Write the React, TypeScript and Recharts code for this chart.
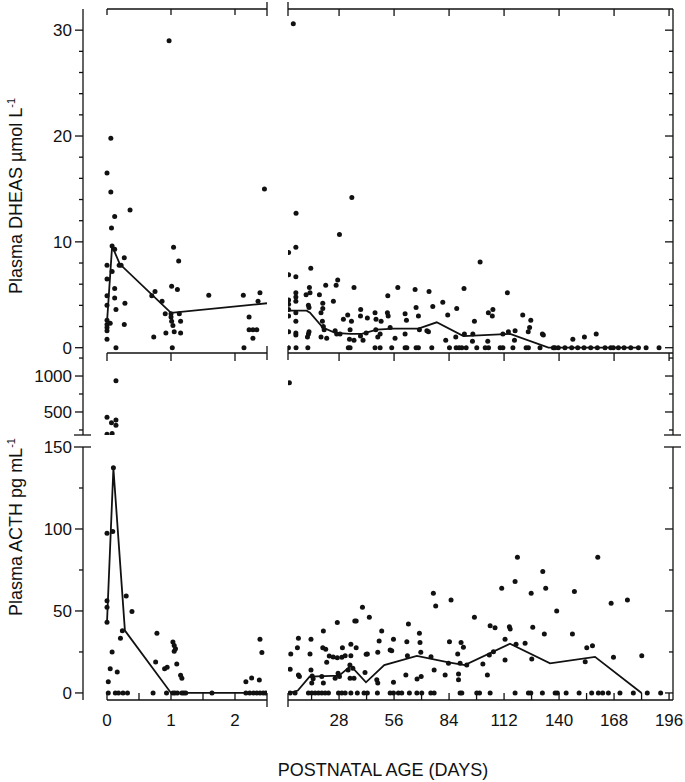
import React from "react";
import {
  ComposedChart,
  Scatter,
  Line,
  XAxis,
  YAxis,
  ReferenceLine,
} from "recharts";

// ---------- data: [postnatal age in days, value] ----------

// DHEAS, first days of life (umol/L)
const dheasEarly: [number, number][] = [
  [0.97, 29.0], [0.06, 19.8], [0.0, 16.5], [0.06, 14.7], [0.12, 12.4],
  [0.07, 11.3], [0.36, 13.0], [2.46, 15.0], [0.08, 9.6], [0.12, 9.3],
  [0.0, 7.8], [0.08, 7.2], [0.0, 6.5], [0.12, 5.6], [0.0, 4.9],
  [0.12, 4.7], [0.0, 4.0], [0.14, 3.6], [0.0, 2.6], [0.0, 2.2],
  [0.05, 2.3], [0.0, 1.9], [0.0, 1.6], [0.0, 0.8], [0.14, 0.0],
  [0.19, 7.8], [0.27, 8.5], [0.22, 7.8], [0.28, 4.2], [0.27, 2.2],
  [0.75, 5.3], [0.7, 4.9], [0.86, 4.4], [0.73, 1.0], [0.92, 1.4],
  [0.91, 3.2], [1.02, 0.0], [1.04, 9.5], [1.12, 8.2], [1.01, 5.8],
  [1.1, 5.5], [1.0, 3.2], [1.0, 2.9], [1.01, 2.5], [1.03, 2.1],
  [1.05, 1.5], [1.13, 3.2], [1.15, 2.5], [1.15, 1.4], [1.59, 4.95],
  [2.13, 4.95], [2.14, 0.0], [2.22, 2.9], [2.22, 1.7], [2.28, 1.7],
  [2.34, 1.7], [2.28, 0.9], [2.39, 5.2], [2.36, 4.4],
];
const dheasEarlyMedian: [number, number][] = [
  [0, 2.4], [0.08, 9.6], [0.2, 7.9], [1.0, 3.3], [2.5, 4.2],
];

// DHEAS, later weeks
const dheasLate: [number, number][] = [
  [4.7, 30.6], [6.1, 12.7], [34.5, 14.2], [28.2, 10.7], [99.8, 8.1],
  [2.3, 9.0], [6.0, 9.5], [2.3, 6.9], [6.0, 6.7], [13.6, 7.5],
  [27.3, 6.4], [26.5, 5.9], [21.2, 5.9], [35.6, 5.7], [57.9, 5.7],
  [66.7, 5.5], [73.8, 5.3], [91.6, 5.6], [113.7, 5.2], [12.9, 5.7],
  [13.2, 5.2], [11.2, 5.0], [6.0, 5.2], [6.0, 4.8], [6.0, 4.4],
  [2.3, 4.5], [2.3, 4.1], [18.0, 5.0], [25.1, 4.4], [52.8, 4.9],
  [19.7, 4.2], [12.4, 4.0], [12.7, 3.8], [18.8, 3.3], [19.7, 3.7],
  [6.0, 3.3], [2.3, 3.6], [2.3, 3.0], [6.0, 2.5], [80.8, 4.3],
  [75.7, 3.9], [67.2, 3.8], [87.9, 3.7], [106.3, 3.6], [104.0, 3.3],
  [106.0, 3.0], [52.6, 3.3], [53.0, 3.0], [39.0, 3.6], [38.9, 3.0],
  [46.3, 3.3], [42.4, 2.8], [32.4, 3.1], [30.2, 2.7], [34.3, 2.5],
  [61.6, 3.2], [62.3, 2.6], [68.4, 3.0], [49.4, 2.5], [46.8, 2.7],
  [83.3, 3.1], [96.9, 2.5], [121.5, 3.1], [125.6, 2.6], [125.0, 1.9],
  [124.3, 1.5], [19.5, 2.5], [20.0, 2.0], [20.4, 1.7], [21.7, 0.9],
  [18.8, 1.0], [26.0, 1.6], [26.8, 1.3], [28.5, 1.3], [33.6, 1.7],
  [33.3, 0.8], [35.6, 0.7], [38.9, 1.1], [40.2, 0.7], [41.8, 1.4],
  [46.7, 1.7], [47.7, 1.0], [48.9, 1.3], [54.0, 1.9], [56.5, 0.9],
  [61.6, 1.3], [68.9, 1.7], [72.7, 1.6], [73.5, 1.5], [82.3, 0.7],
  [87.4, 1.0], [91.8, 1.3], [95.9, 0.6], [96.1, 1.3], [103.7, 0.6],
  [111.4, 1.3], [114.2, 1.5], [117.6, 1.6], [117.3, 0.7], [132.0, 1.2],
  [131.5, 1.3], [147.0, 0.8], [152.9, 1.0], [158.9, 1.3], [2.3, 1.5],
  [6.0, 1.2], [6.0, 1.4], [12.4, 1.3], [11.9, 1.0], [12.7, 1.5],
];
const dheasLateZeroDays = [
  2.2, 6.1, 12.1, 32.7, 33.6, 46.3, 48.9, 54.8, 61.6, 62.5, 67.2, 68.4,
  75.2, 84.2, 87.6, 89.1, 90.5, 92.7, 98.1, 102.4, 104.1, 110, 111.4,
  116.5, 123.2, 124.4, 130.3, 137.1, 137.9, 139.6, 143, 146.4, 149.5,
  152.7, 156.1, 159.5, 163.4, 166.3, 167.6, 170.2, 173.1, 176.5, 180.4,
  184.3, 190.9,
];
const dheasLateMedian: [number, number][] = [
  [2, 3.5], [11.5, 3.5], [13.2, 3.3], [19.7, 1.9], [26, 1.4], [33.6, 1.3],
  [39.6, 1.3], [47.2, 1.7], [55.7, 1.8], [68.4, 1.8], [77.7, 2.4],
  [91.3, 1.1], [115.1, 1.3], [134.6, 0], [181.5, 0],
];

// ACTH (pg/mL), values above the axis break
const acthEarlyHigh: [number, number][] = [
  [0.14, 935], [0.0, 426], [0.07, 351], [0.14, 389], [0.14, 315],
  [0.0, 192], [0.08, 200],
];
const acthLateHigh: [number, number][] = [[2.7, 907]];

// ACTH, first days
const acthEarly: [number, number][] = [
  [0.1, 137.4], [0.0, 97.4], [0.09, 98.4], [0.0, 56.3], [0.0, 52.3],
  [0.0, 43.1], [0.3, 59.1], [0.39, 49.6], [0.24, 38.0], [0.78, 36.4],
  [0.21, 33.4], [2.39, 32.7], [0.05, 14.8], [0.16, 12.8], [0.02, 6.9],
  [0.76, 18.9], [0.9, 14.8], [0.94, 15.7], [1.05, 25.4], [1.09, 17.7],
  [1.15, 10.8], [1.17, 9.0], [2.42, 24.6], [2.17, 6.9], [2.26, 9.1],
  [2.38, 7.9], [1.03, 31], [1.05, 29], [1.07, 27], [0.08, 25],
];
const acthEarlyZeroDays = [
  0.02, 0.13, 0.18, 0.25, 0.32, 0.72, 0.93, 1.03, 1.06, 1.1, 1.17, 1.2,
  1.23, 1.64, 2.17, 2.23, 2.29, 2.34, 2.39, 2.44, 2.48,
];
const acthEarlyMedian: [number, number][] = [
  [0, 43], [0.1, 137], [0.28, 38], [1.0, 0], [2.5, 0],
];

// ACTH, later weeks
const acthLate: [number, number][] = [
  [118.8, 82.7], [159.7, 82.7], [131.7, 74.0], [117.6, 67.9], [110.8, 63.8],
  [133.2, 63.8], [125.8, 60.8], [147.8, 61.8], [76.0, 60.8], [85.0, 56.7],
  [166.5, 54.7], [174.8, 56.7], [77.2, 53.0], [39.9, 52.2], [138.8, 50.0],
  [43.4, 46.2], [96.9, 46.2], [27.1, 42.9], [36.0, 43.9], [36.7, 43.9],
  [63.3, 42.1], [104.9, 41.0], [107.4, 39.8], [114.7, 40.4], [115.1, 39.0],
  [126.6, 40.0], [20.0, 37.8], [49.7, 37.8], [68.9, 36.4], [132.5, 36.0],
  [146.8, 36.0], [7.3, 33.3], [13.7, 32.7], [55.7, 32.7], [112.5, 32.7],
  [48.4, 31.7], [62.5, 31.3], [84.2, 31.3], [90.1, 30.7], [69.2, 30.7],
  [118.1, 29.7], [122.7, 30.3], [34.0, 29.7], [6.8, 27.6], [19.7, 27.6],
  [21.2, 26.6], [29.7, 27.6], [36.7, 27.6], [91.3, 27.9], [154.1, 27.6],
  [157.0, 28.8], [47.7, 24.8], [54.0, 26.2], [54.8, 25.8], [69.6, 24.8],
  [3.4, 23.8], [13.2, 23.8], [27.1, 21.5], [29.4, 21.7], [31.1, 22.7],
  [34.0, 22.7], [41.8, 23.6], [42.4, 23.8], [88.4, 23.8], [182.1, 22.7],
  [167.7, 21.8], [62.8, 22.7], [106.6, 25.2], [23.0, 22.5], [25.0, 22.0],
  [3.1, 14.4], [7.3, 11], [7.8, 10], [13.7, 14], [14.3, 10.4],
  [14.8, 8.6], [14.1, 6], [19.2, 10], [20, 6], [21.7, 18.7],
  [26, 9], [27.5, 12], [28.2, 10], [32.6, 14], [33.5, 17],
  [35, 15], [33.6, 9], [35.6, 9], [41.2, 12.4], [47.2, 8],
  [47.7, 6], [55.7, 6.5], [62, 11], [67.7, 8.5], [69.8, 10],
  [76.4, 14], [82, 11], [88.8, 11.6], [88.8, 8], [103.5, 11],
  [101.2, 17.7], [104.5, 23.2], [112.5, 20.1], [126.1, 20.7], [153.3, 19.1],
  [74.8, 22.1], [89.6, 18.1], [93, 17], [83.7, 18.1],
];
const acthLateZeroDays = [
  3.1, 5.6, 12.4, 14.1, 15.8, 17.5, 19.2, 20.9, 22.6, 27.7, 29.4, 31.1,
  34.0, 37.3, 40.7, 42.4, 47.5, 54.0, 55.7, 58.2, 59.9, 63.8, 67.6, 70.1,
  74.7, 76.4, 89.6, 90.5, 98.1, 99.5, 104.9, 117.6, 124.4, 125.6, 131.5,
  138.0, 139.1, 143.6, 150.2, 156.6, 160.0, 162.2, 165.1, 171.0, 177.8,
  184.9, 191.7,
];
const acthLateMedian: [number, number][] = [
  [3, 0], [7, 1.5], [13, 10], [28, 10.5], [34, 16.5], [41.7, 6.5],
  [51, 17], [67.6, 22.6], [83.7, 18.7], [92, 17], [115, 30],
  [135.4, 18.1], [158.3, 22], [182, 0],
];

// tick values
const dheasTicks = [0, 2, 4, 6, 8, 10, 12, 14, 16, 18, 20, 22, 24, 26, 28, 30];
const acthHighTicks = [180, 250, 500, 750, 1000, 1250];
const acthLowTicks = [0, 25, 50, 75, 100, 125, 150];
const earlyTopTicks = [0, 1, 2, 2.5];
const earlyBottomTicks = [0, 0.5, 1, 1.5, 2, 2.5];
const lateTopTicks = [2, 28, 56, 84, 112, 140, 168, 196];
const lateBottomTicks = [2, 14, 28, 42, 56, 70, 84, 98, 112, 126, 140, 154, 168, 182, 196];

// ---------- layout ----------
const W = 685;
const H = 782;
const INK = "#111";
const FONT = "'Liberation Sans', Arial, sans-serif";

const EARLY_X: [number, number] = [-0.375, 2.5];
const LATE_X: [number, number] = [2, 198];
const DHEAS_Y: [number, number] = [-0.5, 32];
const ACTH_HIGH_Y: [number, number] = [180, 1320];
const ACTH_LOW_Y: [number, number] = [-4.3, 150];

const toPts = (arr: [number, number][]) => arr.map(([x, y]) => ({ x, y }));
const zeros = (days: number[]) => days.map((d) => ({ x: d, y: 0 }));

const dot = (p: any) => <circle cx={p.cx} cy={p.cy} r={2.5} fill={INK} />;

function yTick(opts: { majors?: number[]; labels?: number[]; cap?: number }) {
  return (props: any) => {
    const { x, y, payload } = props;
    const v = payload.value;
    const major = opts.majors ? opts.majors.includes(v) : false;
    const len = major ? 8 : 4;
    return (
      <g>
        {v === opts.cap ? (
          <line x1={x - 9} x2={x + 8} y1={y} y2={y} stroke={INK} strokeWidth={1.3} />
        ) : (
          <line x1={x - len} x2={x} y1={y} y2={y} stroke={INK} strokeWidth={1.3} />
        )}
        {opts.labels && opts.labels.includes(v) && (
          <text x={x - 11} y={y} dy={6} textAnchor="end" fontSize={17} fontFamily={FONT} fill={INK}>
            {v}
          </text>
        )}
      </g>
    );
  };
}

function xTick(opts: { dir: 1 | -1; len: number; caps?: number[]; labels?: number[] }) {
  return (props: any) => {
    const { x, y, payload } = props;
    const v = payload.value;
    const isCap = opts.caps ? opts.caps.includes(v) : false;
    return (
      <g>
        {isCap ? (
          <line x1={x} x2={x} y1={y - 7} y2={y + 7} stroke={INK} strokeWidth={1.3} />
        ) : (
          <line x1={x} x2={x} y1={y} y2={y + opts.dir * opts.len} stroke={INK} strokeWidth={1.3} />
        )}
        {opts.labels && opts.labels.includes(v) && (
          <text x={x} y={y + 26} textAnchor="middle" fontSize={17} fontFamily={FONT} fill={INK}>
            {v}
          </text>
        )}
      </g>
    );
  };
}

const layer: React.CSSProperties = { position: "absolute", left: 0, top: 0 };
const axisLine = { stroke: INK, strokeWidth: 1.3 };
const noTick = { tickLine: false, tickSize: 0, tickMargin: 0, interval: 0 as const };

export default function App() {
  return (
    <div
      style={{
        position: "absolute",
        left: 0,
        top: 0,
        width: W,
        height: H,
        background: "#fff",
        fontFamily: FONT,
        color: INK,
      }}
    >
      {/* DHEAS, first days */}
      <div style={layer}>
        <ComposedChart width={W} height={H} margin={{ top: 8, bottom: H - 354, left: 43, right: W - 267 }}>
          <XAxis xAxisId="b" dataKey="x" type="number" domain={EARLY_X} allowDataOverflow ticks={earlyTopTicks}
            height={1} axisLine={false} {...noTick}
            tick={xTick({ dir: 1, len: 8, caps: [2.5] })} />
          <XAxis xAxisId="t" orientation="top" dataKey="x" type="number" domain={EARLY_X} allowDataOverflow
            ticks={earlyTopTicks} height={1} axisLine={false} {...noTick}
            tick={xTick({ dir: 1, len: 6, caps: [2.5] })} />
          <YAxis yAxisId="v" dataKey="y" type="number" domain={DHEAS_Y} allowDataOverflow ticks={dheasTicks}
            width={40} axisLine={axisLine} {...noTick}
            tick={yTick({ majors: [0, 10, 20, 30], labels: [0, 10, 20, 30] })} />
          <ReferenceLine xAxisId="b" yAxisId="v" ifOverflow="visible" stroke={INK} strokeWidth={1.3}
            segment={[{ x: 0, y: DHEAS_Y[1] }, { x: 2.5, y: DHEAS_Y[1] }]} />
          <ReferenceLine xAxisId="b" yAxisId="v" ifOverflow="visible" stroke={INK} strokeWidth={1.3}
            segment={[{ x: 0, y: DHEAS_Y[0] }, { x: 2.5, y: DHEAS_Y[0] }]} />
          <Scatter xAxisId="b" yAxisId="v" data={toPts(dheasEarly)} shape={dot} isAnimationActive={false} />
          <Line xAxisId="b" yAxisId="v" data={toPts(dheasEarlyMedian)} dataKey="y" type="linear"
            stroke={INK} strokeWidth={1.8} dot={false} isAnimationActive={false} />
        </ComposedChart>
      </div>

      {/* DHEAS, later weeks */}
      <div style={layer}>
        <ComposedChart width={W} height={H} margin={{ top: 8, bottom: H - 354, left: 288, right: 2 }}>
          <XAxis xAxisId="b" dataKey="x" type="number" domain={LATE_X} allowDataOverflow ticks={lateTopTicks}
            height={1} axisLine={axisLine} {...noTick}
            tick={xTick({ dir: 1, len: 8, caps: [2] })} />
          <XAxis xAxisId="t" orientation="top" dataKey="x" type="number" domain={LATE_X} allowDataOverflow
            ticks={lateTopTicks} height={1} axisLine={axisLine} {...noTick}
            tick={xTick({ dir: 1, len: 7, caps: [2] })} />
          <YAxis yAxisId="v" orientation="right" dataKey="y" type="number" domain={DHEAS_Y} allowDataOverflow
            ticks={dheasTicks} width={10} axisLine={axisLine} {...noTick}
            tick={yTick({ majors: [0, 10, 20, 30] })} />
          <Scatter xAxisId="b" yAxisId="v" data={toPts(dheasLate)} shape={dot} isAnimationActive={false} />
          <Scatter xAxisId="b" yAxisId="v" data={zeros(dheasLateZeroDays)} shape={dot} isAnimationActive={false} />
          <Line xAxisId="b" yAxisId="v" data={toPts(dheasLateMedian)} dataKey="y" type="linear"
            stroke={INK} strokeWidth={1.8} dot={false} isAnimationActive={false} />
        </ComposedChart>
      </div>

      {/* ACTH above the break, first days */}
      <div style={layer}>
        <ComposedChart width={W} height={H} margin={{ top: 353, bottom: H - 435, left: 43, right: W - 267 }}>
          <XAxis xAxisId="b" dataKey="x" type="number" domain={EARLY_X} allowDataOverflow hide />
          <YAxis yAxisId="v" dataKey="y" type="number" domain={ACTH_HIGH_Y} allowDataOverflow ticks={acthHighTicks}
            width={40} axisLine={axisLine} {...noTick}
            tick={yTick({ majors: [500, 1000], labels: [500, 1000], cap: 180 })} />
          <Scatter xAxisId="b" yAxisId="v" data={toPts(acthEarlyHigh)} shape={dot} isAnimationActive={false} />
        </ComposedChart>
      </div>

      {/* ACTH above the break, later weeks */}
      <div style={layer}>
        <ComposedChart width={W} height={H} margin={{ top: 353, bottom: H - 435, left: 288, right: 2 }}>
          <XAxis xAxisId="b" dataKey="x" type="number" domain={LATE_X} allowDataOverflow hide />
          <YAxis yAxisId="v" orientation="right" dataKey="y" type="number" domain={ACTH_HIGH_Y} allowDataOverflow
            ticks={acthHighTicks} width={10} axisLine={axisLine} {...noTick}
            tick={yTick({ majors: [500, 1000], cap: 180 })} />
          <Scatter xAxisId="b" yAxisId="v" data={toPts(acthLateHigh)} shape={dot} isAnimationActive={false} />
        </ComposedChart>
      </div>

      {/* ACTH, first days */}
      <div style={layer}>
        <ComposedChart width={W} height={H} margin={{ top: 447, bottom: H - 701, left: 43, right: W - 267 }}>
          <XAxis xAxisId="b" dataKey="x" type="number" domain={EARLY_X} allowDataOverflow ticks={earlyBottomTicks}
            height={1} axisLine={false} {...noTick}
            tick={xTick({ dir: -1, len: 7, caps: [2.5], labels: [0, 1, 2] })} />
          <YAxis yAxisId="v" dataKey="y" type="number" domain={ACTH_LOW_Y} allowDataOverflow ticks={acthLowTicks}
            width={40} axisLine={axisLine} {...noTick}
            tick={yTick({ majors: [0, 50, 100, 150], labels: [0, 50, 100, 150], cap: 150 })} />
          <ReferenceLine xAxisId="b" yAxisId="v" ifOverflow="visible" stroke={INK} strokeWidth={1.3}
            segment={[{ x: 0, y: ACTH_LOW_Y[0] }, { x: 2.5, y: ACTH_LOW_Y[0] }]} />
          <Scatter xAxisId="b" yAxisId="v" data={toPts(acthEarly)} shape={dot} isAnimationActive={false} />
          <Scatter xAxisId="b" yAxisId="v" data={zeros(acthEarlyZeroDays)} shape={dot} isAnimationActive={false} />
          <Line xAxisId="b" yAxisId="v" data={toPts(acthEarlyMedian)} dataKey="y" type="linear"
            stroke={INK} strokeWidth={1.8} dot={false} isAnimationActive={false} />
        </ComposedChart>
      </div>

      {/* ACTH, later weeks */}
      <div style={layer}>
        <ComposedChart width={W} height={H} margin={{ top: 447, bottom: H - 701, left: 288, right: 2 }}>
          <XAxis xAxisId="b" dataKey="x" type="number" domain={LATE_X} allowDataOverflow ticks={lateBottomTicks}
            height={1} axisLine={axisLine} {...noTick}
            tick={xTick({ dir: -1, len: 7, caps: [2], labels: [28, 56, 84, 112, 140, 168, 196] })} />
          <YAxis yAxisId="v" orientation="right" dataKey="y" type="number" domain={ACTH_LOW_Y} allowDataOverflow
            ticks={acthLowTicks} width={10} axisLine={axisLine} {...noTick}
            tick={yTick({ majors: [0, 50, 100, 150], cap: 150 })} />
          <Scatter xAxisId="b" yAxisId="v" data={toPts(acthLate)} shape={dot} isAnimationActive={false} />
          <Scatter xAxisId="b" yAxisId="v" data={zeros(acthLateZeroDays)} shape={dot} isAnimationActive={false} />
          <Line xAxisId="b" yAxisId="v" data={toPts(acthLateMedian)} dataKey="y" type="linear"
            stroke={INK} strokeWidth={1.8} dot={false} isAnimationActive={false} />
        </ComposedChart>
      </div>

      {/* axis titles */}
      <div
        style={{
          position: "absolute",
          left: 14,
          top: 196,
          transform: "translate(-50%, -50%) rotate(-90deg)",
          whiteSpace: "nowrap",
          fontSize: 18,
          lineHeight: "21px",
        }}
      >
        Plasma DHEAS µmol L<span style={{ fontSize: 11, verticalAlign: "7px" }}>-1</span>
      </div>
      <div
        style={{
          position: "absolute",
          left: 14,
          top: 527,
          transform: "translate(-50%, -50%) rotate(-90deg)",
          whiteSpace: "nowrap",
          fontSize: 18,
          lineHeight: "21px",
        }}
      >
        Plasma ACTH pg mL<span style={{ fontSize: 11, verticalAlign: "7px" }}>-1</span>
      </div>
      <div
        style={{
          position: "absolute",
          left: 383,
          top: 760,
          transform: "translateX(-50%)",
          whiteSpace: "nowrap",
          fontSize: 18,
          lineHeight: "21px",
        }}
      >
        POSTNATAL AGE (DAYS)
      </div>
    </div>
  );
}
